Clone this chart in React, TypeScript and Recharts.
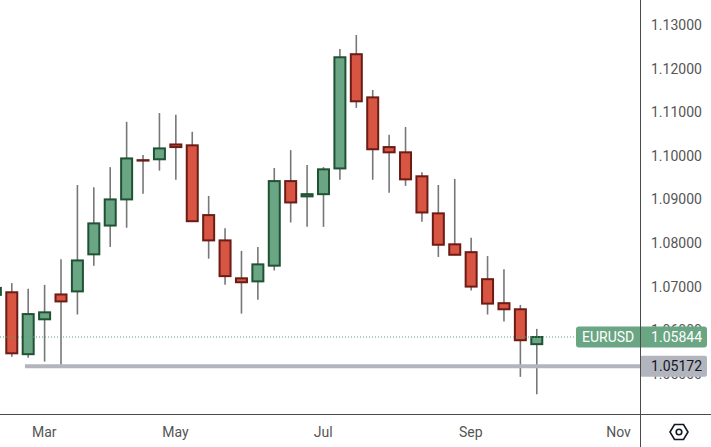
import React from 'react'
import { ComposedChart, Bar, XAxis, YAxis, ReferenceLine } from 'recharts'

// weekly EURUSD candles, first one is partly off the left edge
const weeks = [
  '2023-02-13', '2023-02-20', '2023-02-27', '2023-03-06', '2023-03-13', '2023-03-20',
  '2023-03-27', '2023-04-03', '2023-04-10', '2023-04-17', '2023-04-24', '2023-05-01',
  '2023-05-08', '2023-05-15', '2023-05-22', '2023-05-29', '2023-06-05', '2023-06-12',
  '2023-06-19', '2023-06-26', '2023-07-03', '2023-07-10', '2023-07-17', '2023-07-24',
  '2023-07-31', '2023-08-07', '2023-08-14', '2023-08-21', '2023-08-28', '2023-09-04',
  '2023-09-11', '2023-09-18', '2023-09-25', '2023-10-02',
]
const opens = [
  1.0681, 1.0687, 1.0545, 1.0625, 1.0682, 1.0689, 1.0774, 1.084, 1.09, 1.099, 1.0992, 1.1026,
  1.1024, 1.0864, 1.0806, 1.0719, 1.0712, 1.0748, 1.0942, 1.0907, 1.0912, 1.0971, 1.1233, 1.1134,
  1.102, 1.1008, 1.0953, 1.0868, 1.0797, 1.0779, 1.0717, 1.0662, 1.0648, 1.0568,
]
const highs = [
  1.0705, 1.0708, 1.0695, 1.0704, 1.0763, 1.0933, 1.0928, 1.0974, 1.1078, 1.1002, 1.1098, 1.1094,
  1.1055, 1.0908, 1.0834, 1.0782, 1.0791, 1.0972, 1.1013, 1.0979, 1.0974, 1.1245, 1.1277, 1.1151,
  1.1048, 1.1066, 1.0962, 1.0933, 1.0947, 1.0812, 1.077, 1.074, 1.0658, 1.0603,
]
const lows = [
  1.066, 1.0539, 1.0537, 1.0528, 1.0521, 1.0636, 1.0748, 1.0791, 1.0835, 1.0913, 1.0966, 1.0945,
  1.0848, 1.0764, 1.0704, 1.0638, 1.067, 1.0737, 1.0847, 1.0837, 1.0837, 1.0945, 1.111, 1.0945,
  1.0915, 1.0931, 1.0849, 1.0768, 1.0772, 1.0691, 1.0636, 1.062, 1.0493, 1.0453,
]
const closes = [
  1.0697, 1.0547, 1.0637, 1.0641, 1.0666, 1.076, 1.0845, 1.09, 1.0994, 1.0989, 1.1017, 1.102,
  1.085, 1.0806, 1.0724, 1.071, 1.0751, 1.0942, 1.0893, 1.0912, 1.0969, 1.1226, 1.1125, 1.1015,
  1.1008, 1.0946, 1.087, 1.0796, 1.0773, 1.07, 1.0661, 1.0648, 1.0577, 1.05844,
]

const monthTicks = [2, 10, 19, 28, 37]
const monthLabels = ['Mar', 'May', 'Jul', 'Sep', 'Nov']
const priceTicks = [1.05, 1.06, 1.07, 1.08, 1.09, 1.1, 1.11, 1.12, 1.13]

const symbol = 'EURUSD'
const lastPrice = 1.05844
const supportLevel = 1.05172
const supportFrom = 0.82

const X_DOMAIN = [-0.7, 38.31]
const Y_DOMAIN = [1.04078, 1.135734]

const GREEN = '#6aa683'
const GREEN_EDGE = '#1f5234'
const RED = '#d85443'
const RED_EDGE = '#6b1c14'
const WICK = '#777777'
const TAG_GRAY = '#b2b5be'
const FONT = 'Roboto, sans-serif'

const data = weeks.map((week, k) => ({
  i: k - 1,
  week,
  open: opens[k],
  high: highs[k],
  low: lows[k],
  close: closes[k],
  range: [lows[k], highs[k]],
}))

function Candle(props: any) {
  const { x, y, width, height, payload } = props
  const { open, close, high, low } = payload
  const top = Math.min(y, y + height)
  const h = Math.abs(height)
  const k = h / (high - low)
  const cx = x + width / 2
  const up = close >= open
  const bTop = top + (high - Math.max(open, close)) * k
  const bBot = top + (high - Math.min(open, close)) * k
  return (
    <g>
      <line x1={cx} x2={cx} y1={top} y2={top + h} stroke={WICK} strokeWidth={1.6} />
      <rect
        x={x}
        y={bTop}
        width={width}
        height={Math.max(bBot - bTop, 0.4)}
        fill={up ? GREEN : RED}
        stroke={up ? GREEN_EDGE : RED_EDGE}
        strokeWidth={2}
      />
    </g>
  )
}

// price axis labels; the two tags come last in the ticks list so they sit on top
function PriceTick(props: any) {
  const { x, y, payload } = props
  const v = payload.value
  const axisX = x - 11
  if (v === lastPrice) {
    return (
      <g fontFamily={FONT} fontSize={14}>
        <rect x={axisX - 64} y={y - 10.5} width={131} height={21} rx={3} fill={GREEN} />
        <text x={axisX - 58} y={y} dominantBaseline="central" fill="#fff">{symbol}</text>
        <text x={axisX + 62} y={y} dominantBaseline="central" textAnchor="end" fill="#fff">
          {v.toFixed(5)}
        </text>
      </g>
    )
  }
  if (v === supportLevel) {
    return (
      <g fontFamily={FONT} fontSize={14}>
        <rect x={axisX} y={y - 10.5} width={67} height={21} rx={2} fill={TAG_GRAY} />
        <text x={axisX + 62} y={y} dominantBaseline="central" textAnchor="end" fill="#131722">
          {v.toFixed(5)}
        </text>
      </g>
    )
  }
  return (
    <text x={x} y={y} dominantBaseline="central" fill="#555" fontSize={14} fontFamily={FONT}>
      {v.toFixed(5)}
    </text>
  )
}

export default function App() {
  return (
    <div style={{ position: 'absolute', left: 0, top: 0, width: 711, height: 447, background: '#fff' }}>
      <ComposedChart width={711} height={447} data={data} margin={{ top: 0, right: 0, bottom: 0, left: 0 }}>
        <XAxis
          dataKey="i"
          type="number"
          domain={X_DOMAIN}
          allowDataOverflow
          ticks={monthTicks}
          tickFormatter={(v: number) => monthLabels[monthTicks.indexOf(v)]}
          height={33}
          axisLine={false}
          tickLine={false}
          tickSize={0}
          tickMargin={13}
          tick={{ fill: '#555', fontSize: 14, fontFamily: FONT }}
        />
        <YAxis
          orientation="right"
          type="number"
          domain={Y_DOMAIN}
          allowDataOverflow
          ticks={[...priceTicks, supportLevel, lastPrice]}
          interval={0}
          width={71}
          axisLine={false}
          tickLine={false}
          tickSize={0}
          tickMargin={11}
          tick={<PriceTick />}
        />
        <ReferenceLine
          segment={[{ x: supportFrom, y: supportLevel }, { x: X_DOMAIN[1], y: supportLevel }]}
          stroke={TAG_GRAY}
          strokeWidth={4}
        />
        <ReferenceLine y={lastPrice} stroke="#5a9e77" strokeDasharray="1 2" strokeWidth={1} />
        <Bar dataKey="range" barSize={11} shape={<Candle />} isAnimationActive={false} />
      </ComposedChart>
      <div style={{ position: 'absolute', left: 640, top: 0, width: 1, height: 447, background: '#4a4a4a' }} />
      <div style={{ position: 'absolute', left: 0, top: 414, width: 711, height: 1, background: '#4a4a4a' }} />
      <svg style={{ position: 'absolute', left: 668, top: 422 }} width={22} height={20}>
        <polygon points="2,10 6.5,2.5 15.5,2.5 20,10 15.5,17.5 6.5,17.5" fill="none" stroke="#131722" strokeWidth={1.6} />
        <circle cx={11} cy={10} r={2.8} fill="none" stroke="#131722" strokeWidth={1.6} />
      </svg>
    </div>
  )
}
